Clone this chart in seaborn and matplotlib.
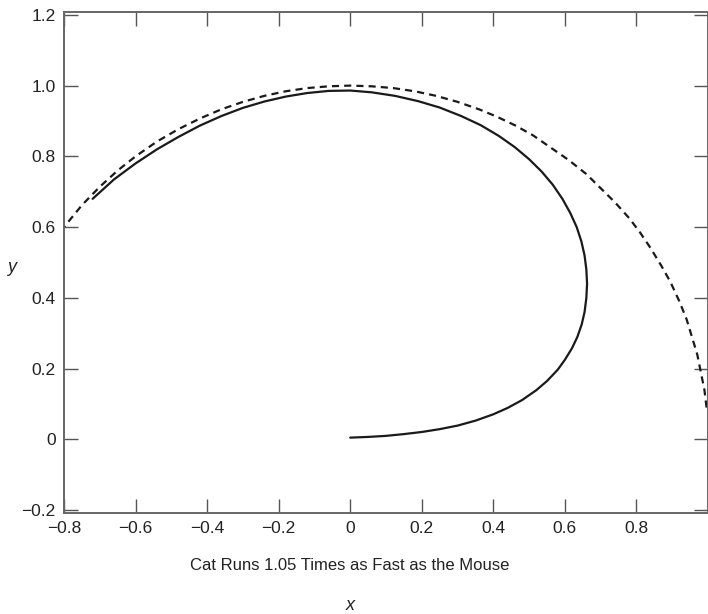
import numpy as np
import pandas as pd
import matplotlib
matplotlib.use('Agg')
import matplotlib.pyplot as plt
import seaborn as sns

# mouse path (dashed)
mouse_x = [0.996, 0.99, 0.98, 0.97, 0.955, 0.94, 0.92, 0.895, 0.87, 0.84, 0.81, 0.78,
           0.74, 0.70, 0.66, 0.61, 0.56, 0.51, 0.46, 0.41, 0.36, 0.30, 0.24, 0.18,
           0.12, 0.06, 0.0, -0.06, -0.12, -0.18, -0.24, -0.30, -0.36, -0.42, -0.48,
           -0.54, -0.60, -0.65, -0.70, -0.75, -0.80]
mouse_y = [0.09, 0.14, 0.19, 0.24, 0.29, 0.34, 0.39, 0.445, 0.49, 0.54, 0.585, 0.625,
           0.67, 0.71, 0.75, 0.79, 0.825, 0.86, 0.888, 0.912, 0.933, 0.954, 0.971, 0.984,
           0.993, 0.998, 1.0, 0.998, 0.993, 0.984, 0.971, 0.954, 0.933, 0.907, 0.877,
           0.842, 0.80, 0.76, 0.714, 0.662, 0.60]

# cat path (solid)
cat_x = [0.0, 0.05, 0.10, 0.15, 0.20, 0.25, 0.30, 0.35, 0.40, 0.44, 0.48, 0.52,
         0.55, 0.58, 0.60, 0.62, 0.635, 0.647, 0.655, 0.66, 0.662, 0.66, 0.655, 0.646,
         0.633, 0.615, 0.593, 0.566, 0.535, 0.50, 0.46, 0.415, 0.365, 0.31, 0.25,
         0.19, 0.125, 0.06, 0.0, -0.06, -0.12, -0.18, -0.24, -0.30, -0.36, -0.42,
         -0.48, -0.54, -0.60, -0.66, -0.72]
cat_y = [0.005, 0.007, 0.01, 0.015, 0.021, 0.029, 0.039, 0.053, 0.071, 0.089, 0.111, 0.139,
         0.165, 0.197, 0.225, 0.258, 0.29, 0.325, 0.36, 0.40, 0.44, 0.48, 0.52, 0.56,
         0.60, 0.64, 0.68, 0.72, 0.757, 0.792, 0.826, 0.858, 0.888, 0.914, 0.938,
         0.956, 0.971, 0.981, 0.986, 0.985, 0.979, 0.969, 0.955, 0.937, 0.914, 0.887,
         0.855, 0.82, 0.78, 0.735, 0.68]

xticks = [-0.8, -0.6, -0.4, -0.2, 0, 0.2, 0.4, 0.6, 0.8]
xtick_labels = ['\u22120.8', '\u22120.6', '\u22120.4', '\u22120.2', '0', '0.2', '0.4', '0.6', '0.8']
yticks = [-0.2, 0, 0.2, 0.4, 0.6, 0.8, 1.0, 1.2]
ytick_labels = ['\u22120.2', '0', '0.2', '0.4', '0.6', '0.8', '1.0', '1.2']

sns.set_style('ticks')
plt.rcParams['font.family'] = ['Liberation Sans', 'DejaVu Sans']
plt.rcParams['font.size'] = 12

mouse = pd.DataFrame({'x': mouse_x, 'y': mouse_y})
cat = pd.DataFrame({'x': cat_x, 'y': cat_y})

fig = plt.figure(figsize=(7.08, 6.14), dpi=100)
ax = fig.add_axes([64 / 708, 1 - 513 / 614, 644 / 708, 501 / 614])

sns.lineplot(data=mouse, x='x', y='y', sort=False, ax=ax, color='#1a1a1a',
             linewidth=1.6, estimator=None)
ax.lines[-1].set_dashes((3.2, 2.3))
sns.lineplot(data=cat, x='x', y='y', sort=False, ax=ax, color='#1a1a1a',
             linewidth=1.6, estimator=None)

ax.set_xlim(-0.8, 1.0)
ax.set_ylim(-0.208, 1.208)
ax.set_xticks(xticks)
ax.set_xticklabels(xtick_labels)
ax.set_yticks(yticks)
ax.set_yticklabels(ytick_labels)
ax.tick_params(direction='in', length=10, width=1, top=True, right=True,
               colors='#555555', labelcolor='#222222', labelsize=12.5, pad=6)
for s in ax.spines.values():
    s.set_visible(True)
    s.set_color('#666666')
    s.set_linewidth(1.4)

ax.set_xlabel('x', style='italic', fontsize=13, color='#222222')
ax.xaxis.set_label_coords((350 - 64) / 644, -(597 - 513) / 501)
ax.set_ylabel('y', style='italic', fontsize=13, rotation=0, va='center', color='#222222')
ax.yaxis.set_label_coords(-(64 - 12) / 644, (513 - 268) / 501)

fig.text(350 / 708, 1 - 565 / 614, 'Cat Runs 1.05 Times as Fast as the Mouse',
         ha='center', va='center', fontsize=12, color='#222222')

fig.savefig('out.png', dpi=100)
